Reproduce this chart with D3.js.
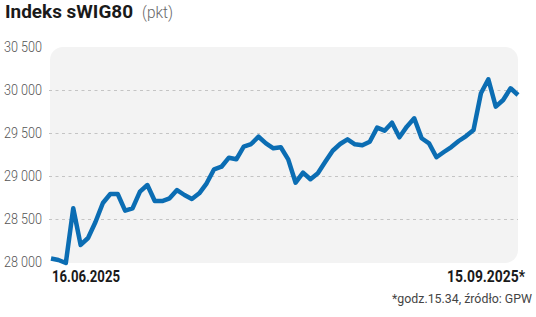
<!DOCTYPE html>
<html><head><meta charset="utf-8">
<script src="https://cdn.jsdelivr.net/npm/d3@7"></script>
<style>
html,body{margin:0;padding:0;background:#fff;}
svg{display:block;}
</style></head>
<body>
<svg id="chart" width="536" height="317"></svg>
<script>
const dates = [
 "16.06.2025","17.06.2025","18.06.2025","20.06.2025","23.06.2025","24.06.2025","25.06.2025","26.06.2025","27.06.2025","30.06.2025",
 "01.07.2025","02.07.2025","03.07.2025","04.07.2025","07.07.2025","08.07.2025","09.07.2025","10.07.2025","11.07.2025","14.07.2025",
 "15.07.2025","16.07.2025","17.07.2025","18.07.2025","21.07.2025","22.07.2025","23.07.2025","24.07.2025","25.07.2025","28.07.2025",
 "29.07.2025","30.07.2025","31.07.2025",
 "01.08.2025","04.08.2025","05.08.2025","06.08.2025","07.08.2025","08.08.2025","11.08.2025","12.08.2025","13.08.2025","14.08.2025",
 "18.08.2025","19.08.2025","20.08.2025","21.08.2025","22.08.2025","25.08.2025","26.08.2025","27.08.2025","28.08.2025","29.08.2025",
 "01.09.2025","02.09.2025","03.09.2025","04.09.2025","05.09.2025","08.09.2025","09.09.2025","10.09.2025","11.09.2025","12.09.2025","15.09.2025"
];
const values = [
 28041,28023,27988,28625,28198,28279,28465,28686,28791,28791,
 28597,28624,28818,28895,28709,28709,28741,28837,28779,28733,
 28799,28915,29078,29108,29213,29194,29341,29372,29457,29380,
 29322,29334,29194,
 28922,29039,28962,29032,29166,29294,29372,29427,29369,29357,
 29399,29562,29527,29620,29450,29574,29671,29439,29380,29218,
 29279,29337,29407,29465,29535,29962,30125,29806,29884,30020,29942
];
const yTicks = [28000, 28500, 29000, 29500, 30000, 30500];
const gridTicks = [28500, 29000, 29500, 30000];
const xLabels = ["16.06.2025", "15.09.2025*"];
const title = "Indeks sWIG80";
const unit = "(pkt)";
const note = "*godz.15.34, źródło: GPW";

const svg = d3.select("#chart");
const font = "Roboto,'Noto Sans',sans-serif";

const x = d3.scalePoint().domain(dates).range([51, 518]);
const y = d3.scaleLinear().domain([28000, 30500]).range([262, 47]);

const loc = d3.formatLocale({decimal: ",", thousands: " ", grouping: [3], currency: ["", ""]});
const fmt = loc.format(",d");

// plot background
svg.append("rect")
  .attr("x", 50).attr("y", y(30500))
  .attr("width", 468).attr("height", y(28000) - y(30500) + 1)
  .attr("rx", 13).attr("ry", 13)
  .attr("fill", "#f3f3f3");

// grid
svg.append("g").selectAll("line").data(gridTicks).join("line")
  .attr("x1", 49).attr("x2", 518)
  .attr("y1", d => Math.round(y(d)) + 0.5).attr("y2", d => Math.round(y(d)) + 0.5)
  .attr("stroke", "#c4c4c4").attr("stroke-width", 1)
  .attr("stroke-dasharray", "3,3.5");

// y labels
const yAxis = d3.axisLeft(y).tickValues(yTicks).tickFormat(fmt).tickSize(0).tickPadding(0);
const gy = svg.append("g").attr("transform", "translate(4,0)").call(yAxis);
gy.select(".domain").remove();
gy.selectAll("text")
  .attr("text-anchor", "start").attr("x", 0)
  .attr("font-family", font).attr("font-size", 14).attr("font-weight", 300)
  .attr("textLength", 38).attr("lengthAdjust", "spacingAndGlyphs")
  .attr("fill", "#555");

// line
const line = d3.line().x((d, i) => x(dates[i])).y(d => y(d));
svg.append("path").datum(values)
  .attr("d", line)
  .attr("fill", "none")
  .attr("stroke", "#0b6db3")
  .attr("stroke-width", 4.5)
  .attr("stroke-linejoin", "round")
  .attr("stroke-linecap", "butt");

// x labels
svg.append("text").attr("x", x(dates[0]) + 1).attr("y", 281.5)
  .attr("font-family", font).attr("font-size", 16).attr("font-weight", "bold")
  .attr("textLength", 68).attr("lengthAdjust", "spacingAndGlyphs")
  .attr("fill", "#1a1a1a").text(xLabels[0]);
svg.append("text").attr("x", 525).attr("y", 281.5).attr("text-anchor", "end")
  .attr("font-family", font).attr("font-size", 16).attr("font-weight", "bold")
  .attr("textLength", 78).attr("lengthAdjust", "spacingAndGlyphs")
  .attr("fill", "#1a1a1a").text(xLabels[1]);

// title
svg.append("text").attr("x", 5).attr("y", 18)
  .attr("font-family", font).attr("font-size", 18).attr("font-weight", "bold")
  .attr("textLength", 128).attr("lengthAdjust", "spacingAndGlyphs")
  .attr("fill", "#1a1a1a").text(title);
svg.append("text").attr("x", 142).attr("y", 18)
  .attr("font-family", font).attr("font-size", 17).attr("font-weight", 300)
  .attr("textLength", 31).attr("lengthAdjust", "spacingAndGlyphs")
  .attr("fill", "#666").text(unit);

// note
svg.append("text").attr("x", 532).attr("y", 303).attr("text-anchor", "end")
  .attr("font-family", font).attr("font-size", 12.5)
  .attr("textLength", 140).attr("lengthAdjust", "spacingAndGlyphs")
  .attr("fill", "#444").text(note);
</script>
</body></html>
